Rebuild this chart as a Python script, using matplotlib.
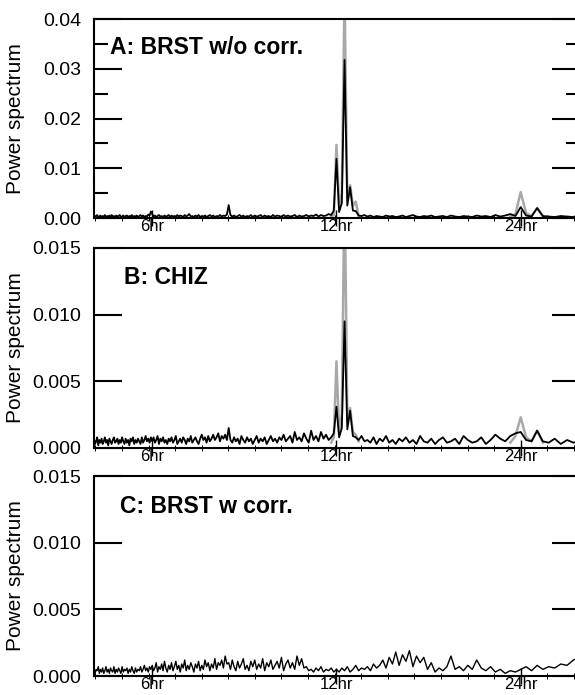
import matplotlib.pyplot as plt
import numpy as np
from matplotlib.ticker import FormatStrFormatter, NullFormatter

plt.rcParams['font.family'] = ['Liberation Sans', 'DejaVu Sans']

# spectra sampled from 5.00 cpd downwards in 0.02 cpd steps, values in units of 1e-4
freq_start = 5.0
freq_step = 0.02

power_a = [3, 5, 2, 4, 6, 2, 3, 5, 1, 4, 3, 6, 2, 4, 3, 5, 2, 6, 3, 4,
           2, 5, 3, 4, 6, 2, 3, 5, 2, 4, 5, 2, 4, 3, 6, 2, 4, 3, 5, 2,
           4, 6, 3, 5, 2, 4, 3, 7, 5, 13,
           8, 3, 5, 2, 4, 6, 3, 4, 2, 5, 3, 4, 6, 2, 5, 3, 4, 2, 6, 3,
           5, 4, 2, 6, 3, 5, 8, 3, 4, 2, 5, 3, 6, 2, 4, 3, 5, 2, 4, 6,
           3, 5, 2, 4, 3, 6, 3, 5, 4, 7,
           26, 6, 3, 5, 2, 4, 6, 3, 5, 2, 4, 3, 6, 2, 5, 3, 4, 6, 2, 5,
           3, 4, 2, 6, 3, 5, 4, 2, 6, 3, 5, 3, 4, 6, 2, 5, 3, 4, 6, 3,
           5, 4, 7, 3, 6, 4, 5, 8, 6, 15,
           119, 12, 30, 318, 25, 62, 15, 14, 5, 4, 6,
           3, 5, 2, 4, 3, 2, 5, 3, 4, 2, 3, 5, 2, 4, 6, 3, 2, 4, 3, 5,
           2, 3, 4, 2, 5, 3, 2, 4, 3, 2, 5, 3, 4, 2, 6, 3, 5, 8, 4,
           22, 5, 3, 20, 4, 3, 2, 4, 3, 2, 3]

power_b = [4, 7, 3, 5, 8, 2, 6, 4, 7, 3, 5, 8, 4, 6, 2, 7, 5, 3, 6, 8,
           4, 5, 7, 3, 6, 4, 8, 5, 3, 7, 4, 6, 2, 7, 5, 8, 3, 6, 4, 7,
           5, 3, 8, 4, 6, 9, 5, 7, 4, 8,
           5, 8, 4, 6, 9, 3, 7, 5, 8, 4, 6, 3, 7, 5, 8, 4, 6, 9, 3, 5,
           7, 4, 8, 6, 3, 7, 5, 9, 4, 6, 8, 5, 3, 7, 10, 6, 8, 4, 9, 5,
           7, 10, 6, 8, 11, 5, 9, 7, 10, 6,
           15, 6, 4, 8, 5, 7, 3, 9, 6, 4, 8, 5, 7, 3, 6, 9, 4, 7, 5, 8,
           3, 6, 9, 5, 7, 4, 8, 6, 10, 5, 7, 9, 4, 12, 6, 8, 5, 11, 7, 4,
           13, 6, 9, 5, 12, 7, 10, 6, 8, 11,
           31, 8, 15, 95, 14, 28, 9, 8, 6, 9, 5,
           6, 4, 8, 3, 7, 5, 9, 4, 6, 3, 7, 5, 8, 4, 6, 3, 9, 5, 4, 7,
           3, 6, 8, 4, 5, 7, 3, 9, 6, 4, 5, 8, 3, 6, 10, 7, 5, 9, 11,
           12, 6, 5, 13, 5, 4, 7, 3, 6, 4, 5]

power_c = [3, 6, 2, 5, 4, 7, 2, 5, 3, 6, 2, 4, 7, 3, 5, 2, 6, 4, 3, 7,
           2, 5, 3, 6, 4, 2, 7, 3, 5, 4, 6, 2, 5, 3, 7, 4, 2, 6, 3, 5,
           4, 7, 3, 5, 8, 4, 6, 3, 7, 5,
           8, 4, 6, 10, 3, 7, 5, 9, 4, 11, 6, 3, 8, 5, 10, 4, 7, 11, 5, 8,
           3, 9, 6, 12, 4, 8, 5, 10, 7, 3, 9, 6, 11, 4, 8, 5, 12, 7, 10, 4,
           9, 6, 13, 5, 10, 8, 12, 6, 15, 9,
           10, 5, 12, 7, 4, 11, 6, 9, 13, 5, 8, 4, 11, 7, 12, 5, 9, 6, 13, 4,
           10, 7, 12, 5, 8, 11, 6, 14, 4, 9, 12, 6, 10, 5, 15, 8, 13, 6, 7, 4,
           5, 3, 6, 4, 7, 3, 5, 4, 6, 3,
           5, 3, 6, 4, 7, 3, 5, 8, 4, 6, 5,
           7, 4, 9, 6, 8, 12, 6, 14, 9, 18, 8, 16, 11, 19, 7, 15, 10, 14,
           5, 10, 3, 6, 4, 7, 15, 5, 7, 4, 8, 5, 12, 6, 4, 7, 3, 5, 2, 4, 3,
           5, 7, 4, 8, 5, 7, 6, 9, 8, 12, 14]

# gray (second) spectra around the tidal peaks
gray_freq_12 = [2.04, 2.02, 2.00, 1.98, 1.96, 1.94, 1.92, 1.90, 1.88, 1.86, 1.84]
gray_a_12 = [3, 6, 147, 25, 50, 450, 40, 66, 25, 33, 4]
gray_b_12 = [4, 8, 65, 12, 25, 200, 22, 30, 12, 10, 5]
gray_freq_24 = [1.04, 1.02, 1.00, 0.98, 0.96, 0.94, 0.92]
gray_a_24 = [3, 8, 52, 10, 4, 20, 3]
gray_b_24 = [4, 9, 23, 8, 5, 13, 4]

period_ticks = [6, 12, 24]
period_labels = ['6hr', '12hr', '24hr']


def draw_panel(ax, power, grays, ymax, ystep, fmt, title, title_x, title_y,
               minor_y=False, lw=1.0):
    freq = freq_start - freq_step * np.arange(len(power))
    for gf, gv in grays:
        ax.plot(24.0 / np.array(gf), np.array(gv) * 1e-4, color='#a8a8a8', lw=1.8)
    ax.plot(24.0 / freq, np.array(power) * 1e-4, color='black', lw=lw)

    ax.set_xscale('log')
    ax.set_xlim(4.82, 30.0)
    ax.set_ylim(0, ymax)

    ax.set_xticks(period_ticks)
    ax.set_xticklabels(period_labels)
    minor_per = 24.0 / np.exp(0.1 * np.arange(-2, 17))
    ax.set_xticks(minor_per, minor=True)
    ax.xaxis.set_minor_formatter(NullFormatter())
    ax.tick_params(axis='x', which='major', direction='inout', length=11, width=1.0,
                   labelsize=12, pad=-4.5, top=False)
    ax.tick_params(axis='x', which='minor', direction='inout', length=4, width=0.7, top=False)

    ax.set_yticks(np.arange(0, ymax + 1e-9, ystep))
    ax.yaxis.set_major_formatter(FormatStrFormatter(fmt))
    ax.tick_params(axis='y', which='major', direction='in', length=20, width=1.5,
                   left=True, right=True, labelsize=14, pad=9)
    if minor_y:
        ax.set_yticks(np.arange(ystep / 2, ymax, ystep), minor=True)
        ax.tick_params(axis='y', which='minor', direction='in', length=10, width=1.5,
                       left=True, right=True)

    for sp in ax.spines.values():
        sp.set_linewidth(1.5)

    ax.set_ylabel('Power spectrum', fontsize=15)
    ax.yaxis.set_label_coords(-0.142, 0.5)
    ax.text(title_x, title_y, title, transform=ax.transAxes, fontsize=16.5,
            fontweight='bold', ha='left', va='center')


fig = plt.figure(figsize=(5.75, 6.95), dpi=100)
ax_a = fig.add_axes([0.1635, 0.6863, 0.8452, 0.2863])
ax_b = fig.add_axes([0.1635, 0.3554, 0.8452, 0.2878])
ax_c = fig.add_axes([0.1635, 0.0273, 0.8452, 0.2878])

draw_panel(ax_a, power_a, [(gray_freq_12, gray_a_12), (gray_freq_24, gray_a_24)],
           0.04, 0.01, '%.2f', 'A: BRST w/o corr.', 0.033, 0.857, minor_y=True, lw=1.3)
draw_panel(ax_b, power_b, [(gray_freq_12, gray_b_12), (gray_freq_24, gray_b_24)],
           0.015, 0.005, '%.3f', 'B: CHIZ', 0.062, 0.85, lw=1.3)
draw_panel(ax_c, power_c, [], 0.015, 0.005, '%.3f', 'C: BRST w corr.', 0.054, 0.848)

fig.savefig('out.png', dpi=100)
